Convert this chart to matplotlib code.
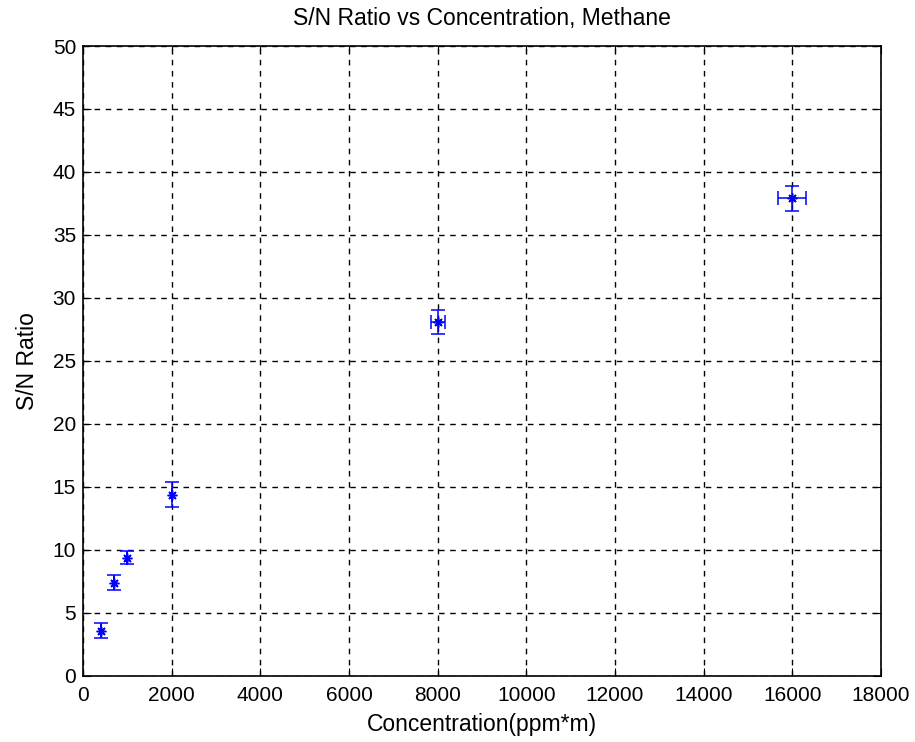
import matplotlib
matplotlib.use("Agg")
import matplotlib.pyplot as plt
import numpy as np

# === Data ===
conc = [400, 700, 1000, 2000, 8000, 16000]
conc_err = [0, 0, 0, 0, 160, 320]
snr = [3.6, 7.4, 9.4, 14.4, 28.1, 37.9]
snr_err = [0.6, 0.6, 0.5, 1.0, 0.95, 1.0]

x_ticks = np.arange(0, 18001, 2000)
y_ticks = np.arange(0, 51, 5)

plt.rcParams['font.family'] = ['Liberation Sans', 'DejaVu Sans']

fig = plt.figure(figsize=(9.15, 7.42), dpi=100)
ax = fig.add_axes([0.0907, 0.089, 0.872, 0.849])

# asterisk-style marker like the MATLAB '*'
ax.errorbar(conc, snr, yerr=snr_err, xerr=conc_err, fmt='none',
            ecolor='blue', elinewidth=1.1, capsize=5, capthick=1.1)
ax.plot(conc, snr, linestyle='none', marker=(8, 2, 0), markersize=7,
        color='blue', markeredgewidth=1.1)

ax.set_xlim(0, 18000)
ax.set_ylim(0, 50)
ax.set_xticks(x_ticks)
ax.set_yticks(y_ticks)
ax.grid(True, color='black', linestyle=(0, (4, 4)), linewidth=1.0)
ax.tick_params(direction='in', length=6, labelsize=15, top=True, right=True)
ax.tick_params(axis='x', pad=7)
ax.tick_params(axis='y', pad=5)
for s in ax.spines.values():
    s.set_linewidth(1.2)

ax.set_title("S/N Ratio vs Concentration, Methane", fontsize=16.5, pad=15)
ax.set_xlabel("Concentration(ppm*m)", fontsize=16.5, labelpad=6)
ax.set_ylabel("S/N Ratio", fontsize=16.5, labelpad=10)

fig.savefig("out.png", dpi=100)
